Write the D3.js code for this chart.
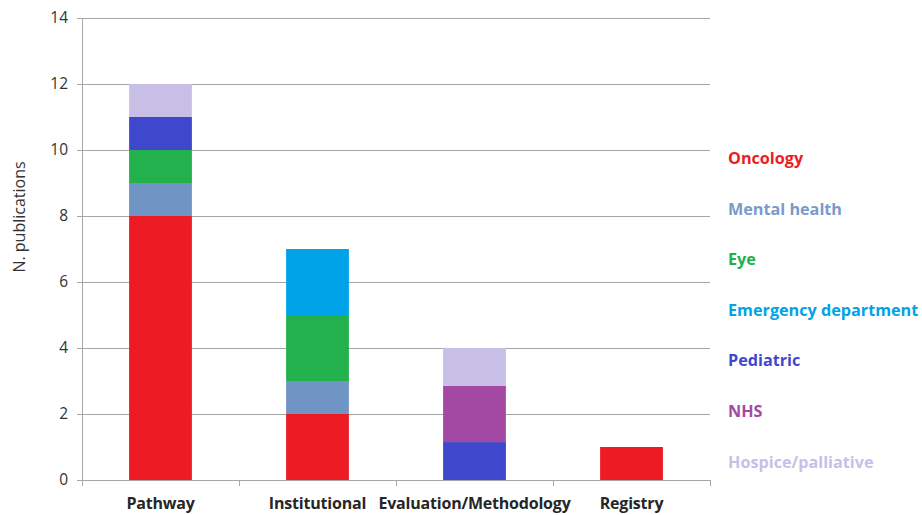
<!DOCTYPE html>
<html>
<head>
<meta charset="utf-8">
<script src="https://cdn.jsdelivr.net/npm/d3@7"></script>
<style>
  body { margin: 0; background: #fff; }
  text { font-family: "Open Sans", "Liberation Sans", sans-serif; }
</style>
</head>
<body>
<div id="chart"></div>
<script>
const categories = ["Pathway", "Institutional", "Evaluation/Methodology", "Registry"];
const seriesNames = ["Oncology", "Mental health", "Eye", "Emergency department", "Pediatric", "NHS", "Hospice/palliative"];
const seriesColors = ["#ed1c24", "#7094c4", "#22b14c", "#00a2e8", "#3f48cc", "#a349a4", "#c8bfe7"];
const labelColors = ["#ed1c24", "#7a9acb", "#22b14c", "#00a2e8", "#3f48cc", "#a349a4", "#c8bfe7"];
// one array per series, values per category
const oncology   = [8, 2, 0, 1];
const mental     = [1, 1, 0, 0];
const eye        = [1, 2, 0, 0];
const emergency  = [0, 2, 0, 0];
const pediatric  = [1, 0, 1.15, 0];
const nhs        = [0, 0, 1.7, 0];
const hospice    = [1, 0, 1.15, 0];
const yTicks = [0, 2, 4, 6, 8, 10, 12, 14];

const seriesValues = [oncology, mental, eye, emergency, pediatric, nhs, hospice];

const width = 922, height = 515;
const margin = {left: 82, right: 212, top: 18, bottom: 35};

const svg = d3.select("#chart").append("svg")
    .attr("width", width)
    .attr("height", height);

const x = d3.scaleBand()
    .domain(categories)
    .range([margin.left, width - margin.right])
    .paddingInner(0.6)
    .paddingOuter(0.3);

const y = d3.scaleLinear()
    .domain([0, 14])
    .range([height - margin.bottom, margin.top]);

// gridlines
svg.append("g")
    .selectAll("line")
    .data(yTicks)
    .join("line")
    .attr("x1", margin.left - 5)
    .attr("x2", width - margin.right)
    .attr("y1", d => y(d) + 0.5)
    .attr("y2", d => y(d) + 0.5)
    .attr("stroke", "#a6a6a6")
    .attr("stroke-width", 1);

// y tick labels
svg.append("g")
    .selectAll("text")
    .data(yTicks)
    .join("text")
    .attr("x", margin.left - 14)
    .attr("y", d => y(d))
    .attr("dy", "0.35em")
    .attr("text-anchor", "end")
    .attr("font-size", 15.5)
    .attr("fill", "#333")
    .text(d => d);

// stacked data
const table = categories.map((c, i) => {
    const row = {category: c};
    seriesNames.forEach((s, j) => row[s] = seriesValues[j][i]);
    return row;
});
const stacked = d3.stack().keys(seriesNames)(table);

svg.append("g")
    .selectAll("g")
    .data(stacked)
    .join("g")
    .attr("fill", (d, i) => seriesColors[i])
    .selectAll("rect")
    .data(d => d.filter(p => p[1] - p[0] > 0))
    .join("rect")
    .attr("x", d => x(d.data.category))
    .attr("width", x.bandwidth())
    .attr("y", d => y(d[1]))
    .attr("height", d => y(d[0]) - y(d[1]));

// axes lines
svg.append("line")
    .attr("x1", margin.left + 0.5).attr("x2", margin.left + 0.5)
    .attr("y1", y(14)).attr("y2", y(0))
    .attr("stroke", "#a6a6a6");
svg.append("line")
    .attr("x1", margin.left).attr("x2", width - margin.right)
    .attr("y1", y(0) + 0.5).attr("y2", y(0) + 0.5)
    .attr("stroke", "#a6a6a6");

// x ticks at band boundaries
const step = x.step();
const boundaries = d3.range(categories.length + 1).map(i => margin.left + i * step);
svg.append("g")
    .selectAll("line")
    .data(boundaries)
    .join("line")
    .attr("x1", d => Math.round(d) + 0.5)
    .attr("x2", d => Math.round(d) + 0.5)
    .attr("y1", y(0))
    .attr("y2", y(0) + 6)
    .attr("stroke", "#a6a6a6");

// x labels
svg.append("g")
    .selectAll("text")
    .data(categories)
    .join("text")
    .attr("x", d => x(d) + x.bandwidth() / 2)
    .attr("y", 509)
    .attr("text-anchor", "middle")
    .attr("font-size", 16)
    .attr("letter-spacing", -0.2)
    .attr("font-weight", "bold")
    .attr("fill", "#262626")
    .text(d => d);

// y axis title
svg.append("text")
    .attr("transform", "translate(25,217) rotate(-90)")
    .attr("text-anchor", "middle")
    .attr("font-size", 16)
    .attr("fill", "#333")
    .text("N. publications");

// legend as coloured text
svg.append("g")
    .selectAll("text")
    .data(seriesNames)
    .join("text")
    .attr("x", 728)
    .attr("y", (d, i) => 164 + i * 50.6)
    .attr("font-size", 16.2)
    .attr("font-weight", "bold")
    .attr("fill", (d, i) => labelColors[i])
    .text(d => d);
</script>
</body>
</html>
